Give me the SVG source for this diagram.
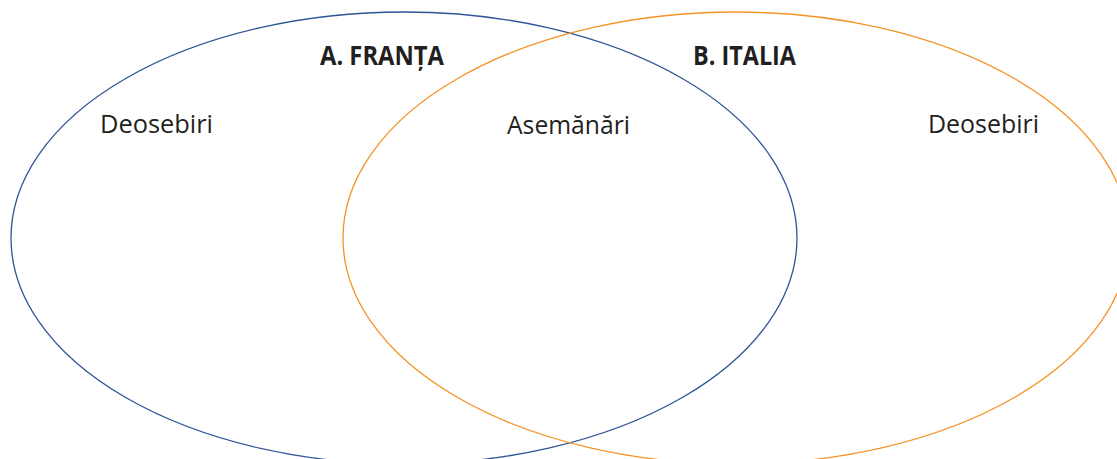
<svg xmlns="http://www.w3.org/2000/svg" width="1117" height="459" viewBox="0 0 1117 459">
<style>
.ring{fill:none;stroke-width:1.3}
.blue{stroke:#2f5597}
.orange{stroke:#f39325}
.lbl{font-family:"Open Sans","Liberation Sans",sans-serif;font-size:26px;fill:#231f20}
.title{font-family:"Open Sans","Liberation Sans",sans-serif;font-size:27px;font-weight:bold;fill:#231f20}
</style>
<rect width="1117" height="459" fill="#ffffff"/>
<g id="setA">
<ellipse class="ring blue" cx="404" cy="238" rx="393" ry="226"/>
<text class="title" x="320" y="65" textLength="124" lengthAdjust="spacingAndGlyphs">A. FRANȚA</text>
<text class="lbl" x="100" y="133" textLength="113" lengthAdjust="spacingAndGlyphs">Deosebiri</text>
</g>
<g id="setB">
<ellipse class="ring orange" cx="736" cy="238" rx="393" ry="226"/>
<text class="title" x="693" y="65" textLength="103" lengthAdjust="spacingAndGlyphs">B. ITALIA</text>
<text class="lbl" x="928" y="133" textLength="111" lengthAdjust="spacingAndGlyphs">Deosebiri</text>
</g>
<g id="intersection">
<text class="lbl" x="507" y="134" textLength="123" lengthAdjust="spacingAndGlyphs">Asemănări</text>
</g>
<g id="connectors"></g>
</svg>
